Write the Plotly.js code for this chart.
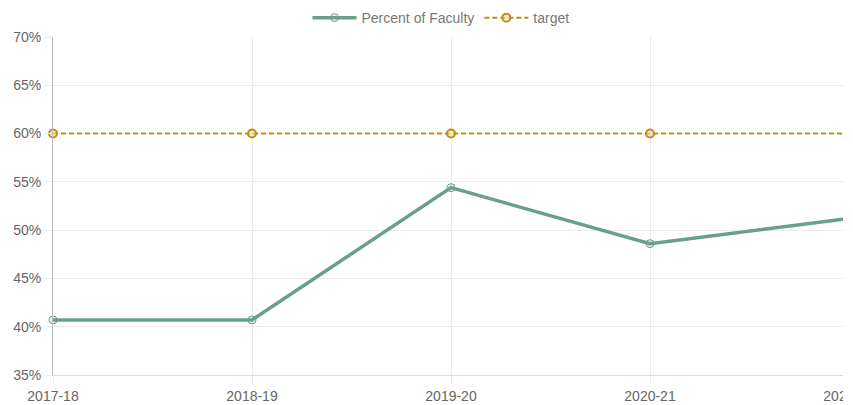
<!DOCTYPE html>
<html><head><meta charset="utf-8">
<script src="https://cdn.plot.ly/plotly-3.0.1.min.js"></script>
<style>
html,body{margin:0;padding:0;background:#fff;overflow:hidden;}
#wrap{width:843px;height:405px;overflow:hidden;position:relative;}
#chart{width:882px;height:405px;}
</style></head>
<body><div id="wrap"><div id="chart"></div></div>
<script>
const years = ["2017-18","2018-19","2019-20","2020-21","2021-22"];
const percentFaculty = [40.7, 40.7, 54.4, 48.6, 51.2];
const target = [60, 60, 60, 60, 60];
const yTickVals = [35,40,45,50,55,60,65,70];
const yTickText = ["35%","40%","45%","50%","55%","60%","65%","70%"];

const green = "#6aa08a";
const gold = "#c1900f";
const font = {family: "Liberation Sans, Arial, Helvetica, sans-serif", size: 14, color: "#666"};

const traces = [
  {x: years, y: percentFaculty, name: "Percent of Faculty", type: "scatter", mode: "lines+markers",
   line: {color: green, width: 3.5},
   marker: {symbol: "circle", size: 8, color: "rgba(106,160,138,0.15)", line: {color: green, width: 1}},
   cliponaxis: false},
  {x: years, y: target, name: "target", type: "scatter", mode: "lines+markers",
   line: {color: gold, width: 2, dash: "5px,3px"},
   marker: {symbol: "circle", size: 8, color: "rgba(230,220,200,0.6)", line: {color: gold, width: 2}},
   cliponaxis: false}
];

const layout = {
  width: 882, height: 405,
  margin: {l: 53, r: 33, t: 37, b: 30, pad: 0, autoexpand: false},
  paper_bgcolor: "#fff", plot_bgcolor: "#fff",
  font: font,
  showlegend: true,
  legend: {orientation: "h", xref: "container", yref: "container", x: 0.5, xanchor: "center",
           y: 0.995, yanchor: "top",
           font: {family: font.family, size: 14, color: "#777"}, itemwidth: 44, traceorder: "normal"},
  xaxis: {type: "category", range: [0, 4], showgrid: true, gridcolor: "#ebebeb", gridwidth: 1,
          showline: true, linecolor: "#dcdcdc", linewidth: 1, zeroline: false, automargin: false,
          ticks: "outside", ticklen: 8, tickcolor: "#ebebeb", tickfont: font, fixedrange: true},
  yaxis: {range: [35, 70], tickvals: yTickVals, ticktext: yTickText, showgrid: true, gridcolor: "#ebebeb",
          showline: true, linecolor: "#bdbdbd", linewidth: 1, zeroline: false, automargin: false,
          ticks: "outside", ticklen: 8, tickcolor: "#ebebeb", tickfont: font, fixedrange: true}
};

Plotly.newPlot("chart", traces, layout, {displayModeBar: false, staticPlot: true});
</script></body></html>
